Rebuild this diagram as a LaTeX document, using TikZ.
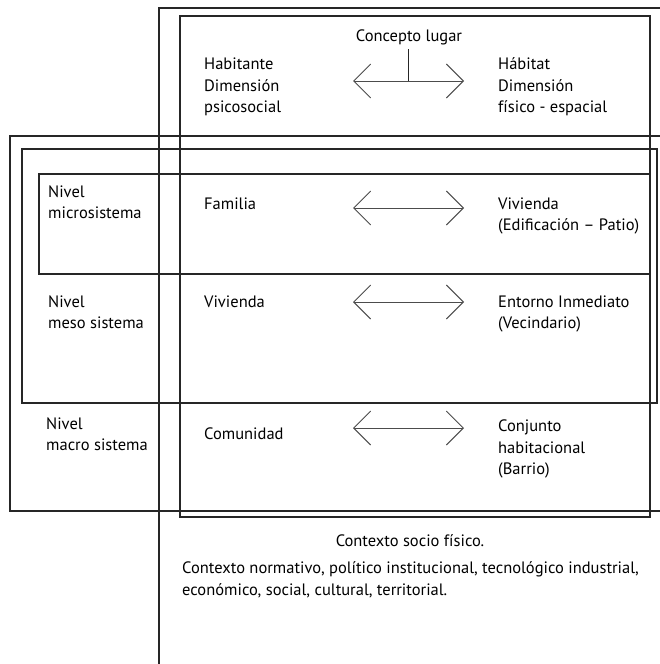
\documentclass[tikz,border=0pt]{standalone}
\usepackage{fontspec}
\setmainfont{PT Sans}
\usetikzlibrary{arrows.meta}
\newcommand{\firstline}{\rule{0pt}{12pt}}
\begin{document}
\begin{tikzpicture}[x=1pt,y=-1pt,
  frame/.style={line width=1.4pt, draw=black!85},
  txt/.style={anchor=north west, inner sep=0pt, font=\fontsize{16.5}{21.5}\selectfont, align=left, yshift=12pt},
  stxt/.style={anchor=base west, inner sep=0pt, font=\fontsize{16.5}{21.5}\selectfont},
  ctxt/.style={anchor=base, inner sep=0pt, font=\fontsize{16.5}{21.5}\selectfont},
  dblarrow/.style={line width=0.9pt, draw=black!70,
    {Straight Barb[length=17pt,width=34pt,line width=0.9pt]}-{Straight Barb[length=17pt,width=34pt,line width=0.9pt]}},
  stem/.style={line width=0.9pt, draw=black!85}]
\useasboundingbox (0,0) rectangle (660,664);
\fill[white] (0,0) rectangle (660,664);

% frames
\draw[frame] (159,664) -- (159,8) -- (661,8);
\draw[frame] (180,16) rectangle (650,517);
\draw[frame] (661,136) -- (10,136) -- (10,511) -- (661,511);
\draw[frame] (22,149) rectangle (657,403);
\draw[frame] (39,174) rectangle (650,274);

% header
\node[ctxt] (concepto) at (409,41) {Concepto lugar};
\node[txt] (habitante) at (204,69.5) {\firstline Habitante\\Dimensión\\psicosocial};
\node[txt] (habitat) at (498,69.5) {\firstline Hábitat\\Dimensión\\físico - espacial};
\coordinate (a0l) at (353,81);
\coordinate (a0r) at (464,81);
\coordinate (a0m) at (408,81);
\coordinate (stemtop) at (408,49);
\draw[dblarrow] (a0l) -- (a0r);
\draw[stem] (stemtop) -- (a0m);

% micro
\node[txt] (nivel1) at (48,197) {\firstline Nivel\\microsistema};
\node[stxt] (familia) at (204,209) {Familia};
\node[txt] (vivienda1) at (498,209) {\firstline Vivienda\\(Edificación – Patio)};
\coordinate (a1l) at (353,208);
\coordinate (a1r) at (464,208);
\draw[dblarrow] (a1l) -- (a1r);

% meso
\node[txt] (nivel2) at (48,307) {\firstline Nivel\\meso sistema};
\node[stxt] (vivienda2) at (204,307) {Vivienda};
\node[txt] (entorno) at (498,307) {\firstline Entorno Inmediato\\(Vecindario)};
\coordinate (a2l) at (353,302);
\coordinate (a2r) at (464,302);
\draw[dblarrow] (a2l) -- (a2r);

% macro
\node[txt] (nivel3) at (46,429) {\firstline Nivel\\macro sistema};
\node[stxt] (comunidad) at (204,439) {Comunidad};
\node[txt] (conjunto) at (498,431.5) {\firstline Conjunto\\habitacional\\(Barrio)};
\coordinate (a3l) at (353,428);
\coordinate (a3r) at (464,428);
\draw[dblarrow] (a3l) -- (a3r);

% context
\node[ctxt] (socio) at (410,546.5) {Contexto socio físico.};
\node[txt] (normativo) at (182,573.5) {\firstline Contexto normativo, político institucional, tecnológico industrial,\\económico, social, cultural, territorial.};
\end{tikzpicture}
\end{document}
